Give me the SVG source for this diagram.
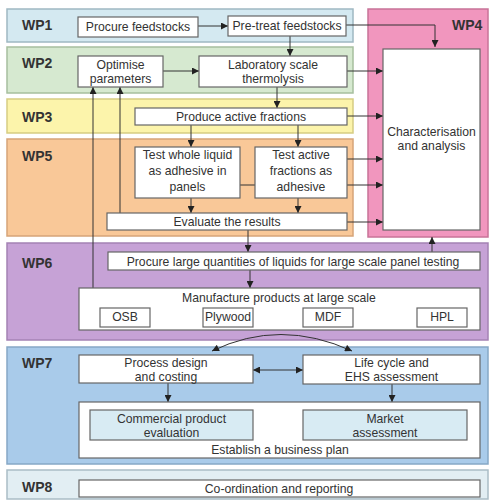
<svg xmlns="http://www.w3.org/2000/svg" width="491" height="501" viewBox="0 0 491 501">
<style>
.band{stroke-width:1.5}
.box{fill:#fff;stroke:#666;stroke-width:1.2}
.sub{fill:#d8ebf3;stroke:#666;stroke-width:1.2}
.t{font-family:"Liberation Sans",Arial,sans-serif;font-size:12.2px;fill:#333;text-anchor:middle}
.wp{font-family:"Liberation Sans",Arial,sans-serif;font-size:14px;font-weight:bold;fill:#333}
.c{fill:none;stroke:#333;stroke-width:1}
</style>
<defs>
<marker id="ah" viewBox="0 0 10 10" refX="10" refY="5" markerWidth="8" markerHeight="7" orient="auto-start-reverse" markerUnits="userSpaceOnUse"><path d="M0,0 L10,5 L0,10 z" fill="#222"/></marker>
</defs>
<rect width="491" height="501" fill="#fff"/>
<g id="bands">
<rect id="wp1-band" class="band" x="7" y="9" width="346" height="33" fill="#d4e9f1" stroke="#9fb8c2"/>
<rect id="wp2-band" class="band" x="7" y="47" width="346" height="46" fill="#d6e9d0" stroke="#a6bf9e"/>
<rect id="wp3-band" class="band" x="7" y="99" width="346" height="34" fill="#fcf4ab" stroke="#d6cd82"/>
<rect id="wp5-band" class="band" x="7" y="139" width="346" height="97" fill="#f9c898" stroke="#d6a478"/>
<rect id="wp4-band" class="band" x="368" y="9" width="120" height="228" fill="#f196be" stroke="#c87398"/>
<rect id="wp6-band" class="band" x="7" y="243" width="481" height="97" fill="#c6a2d6" stroke="#a482b4"/>
<rect id="wp7-band" class="band" x="7" y="347" width="481" height="117" fill="#a9cbea" stroke="#86a8c6"/>
<rect id="wp8-band" class="band" x="7" y="470" width="481" height="29" fill="#e2eef3" stroke="#aabdc6"/>
<text class="wp" x="22" y="30">WP1</text>
<text class="wp" x="22" y="68">WP2</text>
<text class="wp" x="22" y="122">WP3</text>
<text class="wp" x="22" y="161">WP5</text>
<text class="wp" x="452" y="30">WP4</text>
<text class="wp" x="22" y="268">WP6</text>
<text class="wp" x="22" y="368">WP7</text>
<text class="wp" x="22" y="492">WP8</text>
</g>
<g id="connectors">
<line class="c" x1="198" y1="26" x2="228" y2="26" marker-end="url(#ah)"/>
<path class="c" d="M346,25 H435 V47" marker-end="url(#ah)"/>
<line class="c" x1="290" y1="36" x2="290" y2="56" marker-end="url(#ah)"/>
<line class="c" x1="163" y1="71" x2="199" y2="71" marker-end="url(#ah)"/>
<line class="c" x1="347" y1="71" x2="383" y2="71" marker-end="url(#ah)"/>
<line class="c" x1="277" y1="87" x2="277" y2="108" marker-end="url(#ah)"/>
<line class="c" x1="347" y1="116" x2="383" y2="116" marker-end="url(#ah)"/>
<line class="c" x1="191" y1="125" x2="191" y2="147" marker-end="url(#ah)"/>
<line class="c" x1="298" y1="125" x2="298" y2="147" marker-end="url(#ah)"/>
<line class="c" x1="240" y1="185" x2="255" y2="185"/>
<line class="c" x1="347" y1="159" x2="383" y2="159" marker-end="url(#ah)"/>
<line class="c" x1="347" y1="185" x2="383" y2="185" marker-end="url(#ah)"/>
<line class="c" x1="191" y1="198" x2="191" y2="213" marker-end="url(#ah)"/>
<line class="c" x1="298" y1="198" x2="298" y2="213" marker-end="url(#ah)"/>
<line class="c" x1="347" y1="222" x2="383" y2="222" marker-end="url(#ah)"/>
<line class="c" x1="248" y1="230" x2="248" y2="252" marker-end="url(#ah)"/>
<line class="c" x1="432" y1="252" x2="432" y2="237" marker-end="url(#ah)"/>
<line class="c" x1="120" y1="213" x2="120" y2="87" marker-end="url(#ah)"/>
<line class="c" x1="93" y1="288" x2="93" y2="87" marker-end="url(#ah)"/>
<line class="c" x1="250" y1="270" x2="250" y2="288" marker-end="url(#ah)"/>
<path class="c" d="M212,351 Q280,318 352,351" marker-start="url(#ah)" marker-end="url(#ah)"/>
<line class="c" x1="253" y1="370" x2="303" y2="370" marker-start="url(#ah)" marker-end="url(#ah)"/>
<line class="c" x1="168" y1="383" x2="168" y2="402" marker-end="url(#ah)"/>
<line class="c" x1="392" y1="384" x2="392" y2="402" marker-end="url(#ah)"/>
<line class="c" x1="253" y1="422" x2="303" y2="422" marker-start="url(#ah)" marker-end="url(#ah)"/>
</g>
<g id="procure-feedstocks"><rect class="box" x="78" y="17" width="120" height="20"/><text class="t" x="138" y="31">Procure feedstocks</text></g>
<g id="pretreat-feedstocks"><rect class="box" x="228" y="16" width="118" height="20"/><text class="t" x="287" y="30">Pre-treat feedstocks</text></g>
<g id="optimise-parameters"><rect class="box" x="78" y="56" width="85" height="31"/><text class="t" x="120.5" y="69">Optimise</text><text class="t" x="120.5" y="83">parameters</text></g>
<g id="lab-thermolysis"><rect class="box" x="199" y="56" width="148" height="31"/><text class="t" x="273" y="69">Laboratory scale</text><text class="t" x="273" y="83">thermolysis</text></g>
<g id="produce-active-fractions"><rect class="box" x="135" y="108" width="212" height="17"/><text class="t" x="241" y="121">Produce active fractions</text></g>
<g id="test-whole-liquid"><rect class="box" x="135" y="147" width="105" height="51"/><text class="t" x="187.5" y="159">Test whole liquid</text><text class="t" x="187.5" y="175">as adhesive in</text><text class="t" x="187.5" y="191">panels</text></g>
<g id="test-active-fractions"><rect class="box" x="255" y="147" width="92" height="51"/><text class="t" x="301" y="159">Test active</text><text class="t" x="301" y="175">fractions as</text><text class="t" x="301" y="191">adhesive</text></g>
<g id="evaluate-results"><rect class="box" x="107" y="213" width="240" height="17"/><text class="t" x="227" y="226">Evaluate the results</text></g>
<g id="characterisation"><rect class="box" x="383" y="49" width="97" height="181"/><text class="t" x="431.5" y="136">Characterisation</text><text class="t" x="431.5" y="150">and analysis</text></g>
<g id="procure-large"><rect class="box" x="108" y="252" width="372" height="18"/><text class="t" x="293" y="266">Procure large quantities of liquids for large scale panel testing</text></g>
<g id="manufacture"><rect class="box" x="79" y="288" width="401" height="42"/><text class="t" x="279" y="302">Manufacture products at large scale</text>
<rect class="box" x="100" y="308" width="50" height="19"/><text class="t" x="125" y="321">OSB</text>
<rect class="box" x="203" y="308" width="50" height="19"/><text class="t" x="228" y="321">Plywood</text>
<rect class="box" x="303" y="308" width="50" height="19"/><text class="t" x="328" y="321">MDF</text>
<rect class="box" x="417" y="308" width="50" height="19"/><text class="t" x="442" y="321">HPL</text></g>
<g id="process-design"><rect class="box" x="79" y="355" width="174" height="28"/><text class="t" x="166" y="367">Process design</text><text class="t" x="166" y="381">and costing</text></g>
<g id="life-cycle"><rect class="box" x="303" y="355" width="177" height="29"/><text class="t" x="391.5" y="367">Life cycle and</text><text class="t" x="391.5" y="381">EHS assessment</text></g>
<g id="business-plan"><rect class="box" x="79" y="402" width="401" height="56"/><text class="t" x="280" y="454">Establish a business plan</text>
<g id="commercial-evaluation"><rect class="sub" x="90" y="410" width="163" height="30"/><text class="t" x="171.5" y="423">Commercial product</text><text class="t" x="171.5" y="437">evaluation</text></g>
<g id="market-assessment"><rect class="sub" x="303" y="410" width="164" height="30"/><text class="t" x="385" y="423">Market</text><text class="t" x="385" y="437">assessment</text></g></g>
<g id="coordination"><rect class="box" x="79" y="480" width="401" height="17"/><text class="t" x="279" y="493">Co-ordination and reporting</text></g>
</svg>
